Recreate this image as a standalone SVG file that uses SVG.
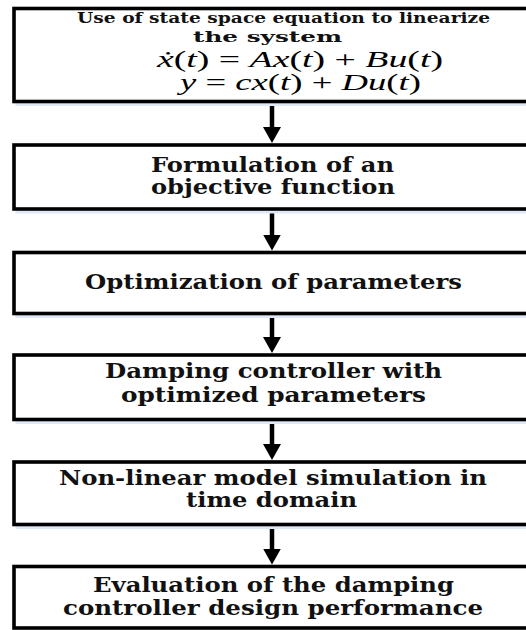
<svg xmlns="http://www.w3.org/2000/svg" width="526" height="630" viewBox="0 0 526 630">
<style>
.box{fill:#ffffff;stroke:#000000;stroke-width:3.6}
.shadow{fill:none;stroke:#e2e9f6;stroke-width:3}
.t{font-family:"DejaVu Serif","Liberation Serif",serif;font-weight:bold;font-size:20px;fill:#111111}
.ts{font-family:"DejaVu Serif","Liberation Serif",serif;font-weight:bold;font-size:14px;fill:#111111}
.eq{font-family:"Liberation Serif","DejaVu Serif",serif;font-size:23px;fill:#000000}
.i{font-style:italic}
.conn{stroke:#000000;stroke-width:4.5;fill:none}
</style>
<defs>
<marker id="ah" markerUnits="userSpaceOnUse" markerWidth="16" markerHeight="18" viewBox="0 0 16 18" refX="6" refY="9" orient="auto">
<path d="M0,0 L16,9 L0,18 Z" fill="#000000"/>
</marker>
</defs>
<rect width="526" height="630" fill="#ffffff"/>
<g id="connectors">
<line class="conn" x1="272" y1="103" x2="272" y2="133" marker-end="url(#ah)"/>
<line class="conn" x1="272" y1="211" x2="272" y2="240.5" marker-end="url(#ah)"/>
<line class="conn" x1="272" y1="315" x2="272" y2="343" marker-end="url(#ah)"/>
<line class="conn" x1="272" y1="421" x2="272" y2="450" marker-end="url(#ah)"/>
<line class="conn" x1="272" y1="526" x2="272" y2="554.5" marker-end="url(#ah)"/>
</g>
<g id="node1">
<rect class="shadow" x="17" y="11.5" width="540" height="93"/>
<rect class="box" x="14" y="8.5" width="540" height="93"/>
<text class="ts" x="77" y="23" textLength="413" lengthAdjust="spacingAndGlyphs">Use of state space equation to linearize</text>
<text class="ts" x="193" y="42" textLength="149" lengthAdjust="spacingAndGlyphs">the system</text>
<text class="eq" x="157" y="67" textLength="286" lengthAdjust="spacingAndGlyphs"><tspan class="i">ẋ</tspan>(<tspan class="i">t</tspan>) = <tspan class="i">Ax</tspan>(<tspan class="i">t</tspan>) + <tspan class="i">Bu</tspan>(<tspan class="i">t</tspan>)</text>
<text class="eq" x="180" y="90" textLength="241" lengthAdjust="spacingAndGlyphs"><tspan class="i">y</tspan> = <tspan class="i">cx</tspan>(<tspan class="i">t</tspan>) + <tspan class="i">Du</tspan>(<tspan class="i">t</tspan>)</text>
</g>
<g id="node2">
<rect class="shadow" x="17" y="148" width="540" height="64"/>
<rect class="box" x="14" y="145" width="540" height="64"/>
<text class="t" x="151" y="172" textLength="243" lengthAdjust="spacingAndGlyphs">Formulation of an</text>
<text class="t" x="151" y="194" textLength="244" lengthAdjust="spacingAndGlyphs">objective function</text>
</g>
<g id="node3">
<rect class="shadow" x="17" y="255.5" width="540" height="61"/>
<rect class="box" x="14" y="252.5" width="540" height="61"/>
<text class="t" x="85" y="289" textLength="377" lengthAdjust="spacingAndGlyphs">Optimization of parameters</text>
</g>
<g id="node4">
<rect class="shadow" x="17" y="358" width="540" height="64.5"/>
<rect class="box" x="14" y="355" width="540" height="64.5"/>
<text class="t" x="105" y="378" textLength="337" lengthAdjust="spacingAndGlyphs">Damping controller with</text>
<text class="t" x="121" y="402" textLength="305" lengthAdjust="spacingAndGlyphs">optimized parameters</text>
</g>
<g id="node5">
<rect class="shadow" x="17" y="465" width="540" height="62.5"/>
<rect class="box" x="14" y="462" width="540" height="62.5"/>
<text class="t" x="59" y="485" textLength="428" lengthAdjust="spacingAndGlyphs">Non-linear model simulation in</text>
<text class="t" x="186" y="507" textLength="171" lengthAdjust="spacingAndGlyphs">time domain</text>
</g>
<g id="node6">
<rect class="shadow" x="17" y="569.5" width="540" height="61.5"/>
<rect class="box" x="14" y="566.5" width="540" height="61.5"/>
<text class="t" x="93" y="592" textLength="361" lengthAdjust="spacingAndGlyphs">Evaluation of the damping</text>
<text class="t" x="63" y="615" textLength="420" lengthAdjust="spacingAndGlyphs">controller design performance</text>
</g>
</svg>
